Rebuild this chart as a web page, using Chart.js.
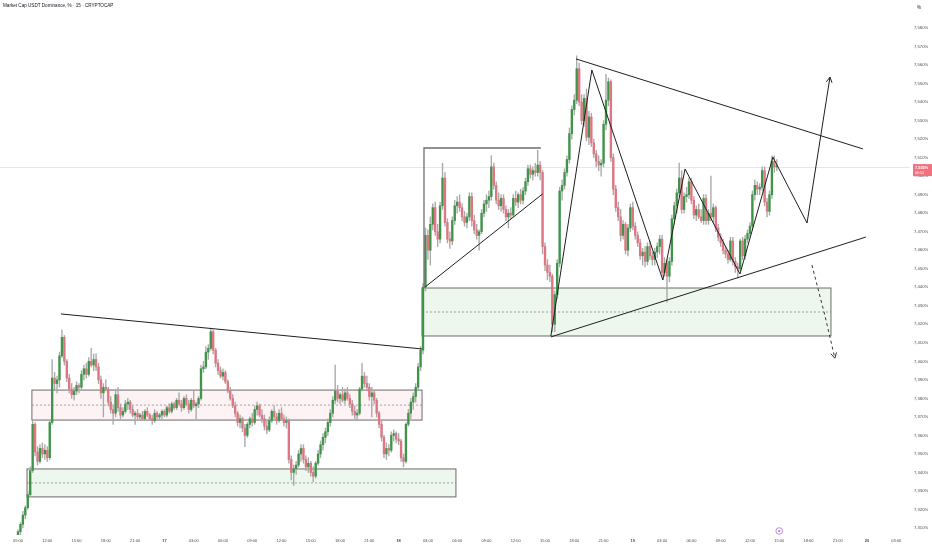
<!DOCTYPE html>
<html>
<head>
<meta charset="utf-8">
<script src="https://cdn.jsdelivr.net/npm/chart.js@4.4.1/dist/chart.umd.min.js"></script>
<style>
  html, body { margin: 0; padding: 0; background: #fff; }
  #wrap { width: 932px; height: 550px; }
</style>
</head>
<body>
<div id="wrap"><canvas id="chart"></canvas></div>
<script>
// 15-minute candles [open, high, low, close], one array per day (x = candle index from 16th 09:00)
const day16 = [
  [7.304,7.309,7.302,7.308],[7.308,7.313,7.306,7.312],[7.312,7.319,7.310,7.317],[7.317,7.322,7.315,7.321],
  [7.321,7.330,7.320,7.328],[7.328,7.343,7.327,7.341],[7.341,7.368,7.340,7.366],[7.366,7.367,7.349,7.351],
  [7.351,7.354,7.344,7.346],[7.346,7.355,7.345,7.353],[7.353,7.356,7.348,7.350],[7.350,7.355,7.347,7.352],
  [7.352,7.354,7.346,7.348],[7.348,7.368,7.347,7.367],[7.367,7.401,7.366,7.391],[7.391,7.394,7.385,7.388],
  [7.388,7.392,7.383,7.390],[7.390,7.405,7.386,7.403],[7.403,7.417,7.402,7.413],[7.413,7.414,7.398,7.400],
  [7.400,7.401,7.389,7.391],[7.391,7.393,7.383,7.385],[7.385,7.388,7.380,7.382],[7.382,7.386,7.379,7.384],
  [7.384,7.389,7.382,7.387],[7.387,7.388,7.383,7.386],[7.386,7.395,7.385,7.393],[7.393,7.398,7.390,7.396],
  [7.396,7.399,7.391,7.393],[7.393,7.402,7.392,7.400],[7.400,7.407,7.397,7.398],[7.398,7.404,7.395,7.401],
  [7.401,7.404,7.395,7.397],[7.397,7.399,7.388,7.390],[7.390,7.392,7.380,7.383],[7.383,7.388,7.370,7.386],
  [7.386,7.390,7.384,7.385],[7.385,7.386,7.376,7.378],[7.378,7.381,7.372,7.374],[7.374,7.376,7.366,7.372],
  [7.372,7.385,7.370,7.382],[7.382,7.386,7.373,7.375],[7.375,7.377,7.369,7.371],[7.371,7.375,7.370,7.373],
  [7.373,7.379,7.372,7.377],[7.377,7.380,7.374,7.378],[7.378,7.379,7.372,7.374],[7.374,7.376,7.370,7.371],
  [7.371,7.373,7.366,7.372],[7.372,7.374,7.369,7.370],[7.370,7.372,7.368,7.371],[7.371,7.373,7.368,7.369],
  [7.369,7.374,7.368,7.373],[7.373,7.375,7.370,7.371],[7.371,7.372,7.368,7.369],[7.369,7.371,7.366,7.368],
  [7.368,7.374,7.367,7.372],[7.372,7.373,7.369,7.370],[7.370,7.372,7.368,7.371],[7.371,7.374,7.369,7.373]
];
const day17 = [
  [7.373,7.374,7.370,7.371],[7.371,7.376,7.370,7.375],[7.375,7.377,7.372,7.373],[7.373,7.378,7.372,7.377],
  [7.377,7.378,7.374,7.375],[7.375,7.380,7.374,7.379],[7.379,7.383,7.376,7.377],[7.377,7.379,7.373,7.375],
  [7.375,7.381,7.374,7.380],[7.380,7.382,7.376,7.377],[7.377,7.379,7.372,7.374],[7.374,7.380,7.373,7.379],
  [7.379,7.384,7.375,7.376],[7.376,7.378,7.369,7.377],[7.377,7.381,7.375,7.380],[7.380,7.398,7.379,7.396],
  [7.396,7.400,7.394,7.397],[7.397,7.408,7.396,7.405],[7.405,7.409,7.401,7.407],[7.407,7.418,7.406,7.416],
  [7.416,7.417,7.404,7.406],[7.406,7.407,7.397,7.399],[7.399,7.401,7.393,7.395],[7.395,7.397,7.391,7.392],
  [7.392,7.396,7.390,7.394],[7.394,7.395,7.388,7.389],[7.389,7.390,7.383,7.384],[7.384,7.386,7.379,7.380],
  [7.380,7.382,7.375,7.376],[7.376,7.378,7.370,7.372],[7.372,7.373,7.365,7.367],[7.367,7.371,7.364,7.369],
  [7.369,7.370,7.362,7.364],[7.364,7.366,7.354,7.360],[7.360,7.367,7.359,7.366],[7.366,7.370,7.364,7.369],
  [7.369,7.372,7.365,7.367],[7.367,7.376,7.366,7.374],[7.374,7.378,7.371,7.376],[7.376,7.377,7.370,7.371],
  [7.371,7.374,7.367,7.369],[7.369,7.371,7.363,7.365],[7.365,7.368,7.361,7.363],[7.363,7.370,7.362,7.368],
  [7.368,7.374,7.367,7.373],[7.373,7.376,7.369,7.370],[7.370,7.372,7.366,7.368],[7.368,7.374,7.367,7.372],
  [7.372,7.375,7.368,7.369],[7.369,7.371,7.365,7.367],[7.367,7.370,7.364,7.368],[7.368,7.369,7.345,7.347],
  [7.347,7.349,7.336,7.340],[7.340,7.344,7.333,7.342],[7.342,7.346,7.339,7.344],[7.344,7.352,7.343,7.350],
  [7.350,7.355,7.346,7.353],[7.353,7.355,7.345,7.347],[7.347,7.349,7.341,7.343],[7.343,7.348,7.340,7.345],
  [7.345,7.346,7.338,7.340],[7.340,7.343,7.335,7.338],[7.338,7.346,7.337,7.345],[7.345,7.352,7.344,7.350],
  [7.350,7.357,7.348,7.355],[7.355,7.361,7.352,7.359],[7.359,7.364,7.356,7.362],[7.362,7.369,7.360,7.367],
  [7.367,7.374,7.365,7.372],[7.372,7.381,7.370,7.379],[7.379,7.398,7.377,7.384],[7.384,7.387,7.378,7.380],
  [7.380,7.383,7.377,7.382],[7.382,7.386,7.378,7.379],[7.379,7.385,7.377,7.383],[7.383,7.386,7.379,7.380],
  [7.380,7.382,7.375,7.377],[7.377,7.379,7.371,7.373],[7.373,7.376,7.369,7.371],[7.371,7.374,7.368,7.372],
  [7.372,7.386,7.371,7.385],[7.385,7.399,7.384,7.392],[7.392,7.394,7.386,7.388],[7.388,7.392,7.384,7.386],
  [7.386,7.388,7.379,7.381],[7.381,7.386,7.370,7.383],[7.383,7.384,7.377,7.379],[7.379,7.380,7.370,7.372],
  [7.372,7.373,7.364,7.366],[7.366,7.368,7.357,7.359],[7.359,7.360,7.348,7.350],[7.350,7.356,7.347,7.353],
  [7.353,7.355,7.349,7.352],[7.352,7.362,7.351,7.360],[7.360,7.363,7.357,7.361],[7.361,7.362,7.356,7.358]
];
const day18 = [
  [7.358,7.361,7.355,7.357],[7.357,7.358,7.346,7.348],[7.348,7.350,7.343,7.346],[7.346,7.367,7.345,7.366],
  [7.366,7.374,7.365,7.372],[7.372,7.380,7.369,7.378],[7.378,7.383,7.374,7.381],[7.381,7.388,7.378,7.386],
  [7.386,7.399,7.385,7.397],[7.397,7.408,7.395,7.406],[7.406,7.442,7.404,7.440],[7.440,7.472,7.438,7.468],
  [7.468,7.471,7.455,7.460],[7.460,7.478,7.452,7.474],[7.474,7.485,7.471,7.483],[7.483,7.486,7.468,7.470],
  [7.470,7.474,7.462,7.466],[7.466,7.486,7.464,7.484],[7.484,7.507,7.482,7.499],[7.499,7.502,7.473,7.475],
  [7.475,7.477,7.464,7.466],[7.466,7.470,7.461,7.465],[7.465,7.478,7.463,7.476],[7.476,7.487,7.474,7.484],
  [7.484,7.489,7.480,7.486],[7.486,7.490,7.481,7.483],[7.483,7.485,7.476,7.478],[7.478,7.481,7.473,7.475],
  [7.475,7.480,7.472,7.478],[7.478,7.491,7.476,7.489],[7.489,7.491,7.473,7.476],[7.476,7.479,7.469,7.471],
  [7.471,7.474,7.466,7.468],[7.468,7.471,7.460,7.470],[7.470,7.482,7.469,7.480],[7.480,7.487,7.478,7.485],
  [7.485,7.490,7.481,7.487],[7.487,7.492,7.483,7.489],[7.489,7.511,7.487,7.505],[7.505,7.507,7.493,7.495],
  [7.495,7.497,7.485,7.487],[7.487,7.491,7.482,7.484],[7.484,7.490,7.481,7.488],[7.488,7.490,7.480,7.482],
  [7.482,7.484,7.476,7.478],[7.478,7.482,7.472,7.480],[7.480,7.483,7.477,7.479],[7.479,7.490,7.478,7.488],
  [7.488,7.492,7.484,7.486],[7.486,7.491,7.483,7.490],[7.490,7.493,7.485,7.487],[7.487,7.494,7.485,7.492],
  [7.492,7.499,7.490,7.497],[7.497,7.506,7.495,7.504],[7.504,7.506,7.499,7.501],[7.501,7.505,7.498,7.503],
  [7.503,7.507,7.500,7.502],[7.502,7.514,7.500,7.506],[7.506,7.508,7.498,7.502],[7.502,7.503,7.458,7.462],
  [7.462,7.464,7.449,7.452],[7.452,7.455,7.444,7.448],[7.448,7.452,7.443,7.446],[7.446,7.447,7.416,7.420],
  [7.420,7.438,7.416,7.436],[7.436,7.455,7.434,7.453],[7.453,7.494,7.451,7.492],[7.492,7.498,7.487,7.495],
  [7.495,7.504,7.493,7.502],[7.502,7.511,7.500,7.509],[7.509,7.526,7.507,7.523],[7.523,7.538,7.520,7.536],
  [7.536,7.544,7.533,7.541],[7.541,7.565,7.539,7.558],[7.558,7.561,7.538,7.540],[7.540,7.544,7.528,7.530],
  [7.530,7.544,7.527,7.542],[7.542,7.547,7.519,7.521],[7.521,7.535,7.517,7.532],[7.532,7.534,7.516,7.518],
  [7.518,7.520,7.510,7.512],[7.512,7.514,7.505,7.508],[7.508,7.511,7.503,7.506],[7.506,7.509,7.500,7.507],
  [7.507,7.530,7.505,7.528],[7.528,7.555,7.525,7.541],[7.541,7.553,7.538,7.551],[7.551,7.552,7.508,7.510],
  [7.510,7.512,7.490,7.493],[7.493,7.495,7.481,7.483],[7.483,7.486,7.476,7.478],[7.478,7.482,7.465,7.468],
  [7.468,7.476,7.466,7.474],[7.474,7.475,7.458,7.460],[7.460,7.474,7.457,7.472],[7.472,7.485,7.470,7.483]
];
const day19 = [
  [7.483,7.486,7.471,7.473],[7.473,7.475,7.466,7.468],[7.468,7.470,7.462,7.464],[7.464,7.466,7.455,7.457],
  [7.457,7.461,7.452,7.459],[7.459,7.462,7.451,7.454],[7.454,7.464,7.452,7.462],[7.462,7.465,7.455,7.457],
  [7.457,7.459,7.452,7.455],[7.455,7.461,7.452,7.459],[7.459,7.464,7.456,7.462],[7.462,7.468,7.458,7.466],
  [7.466,7.468,7.446,7.448],[7.448,7.456,7.446,7.453],[7.453,7.455,7.432,7.446],[7.446,7.456,7.443,7.454],
  [7.454,7.479,7.452,7.477],[7.477,7.486,7.474,7.484],[7.484,7.493,7.480,7.491],[7.491,7.507,7.489,7.499],
  [7.499,7.503,7.480,7.482],[7.482,7.491,7.480,7.489],[7.489,7.494,7.486,7.490],[7.490,7.499,7.488,7.497],
  [7.497,7.499,7.485,7.487],[7.487,7.489,7.477,7.479],[7.479,7.484,7.476,7.482],[7.482,7.485,7.477,7.478],
  [7.478,7.482,7.475,7.476],[7.476,7.490,7.474,7.488],[7.488,7.490,7.474,7.476],[7.476,7.482,7.474,7.480],
  [7.480,7.500,7.476,7.478],[7.478,7.485,7.475,7.483],[7.483,7.484,7.470,7.472],[7.472,7.474,7.465,7.467],
  [7.467,7.469,7.462,7.464],[7.464,7.466,7.458,7.460],[7.460,7.462,7.456,7.458],[7.458,7.460,7.453,7.455],
  [7.455,7.467,7.454,7.465],[7.465,7.467,7.452,7.454],[7.454,7.456,7.448,7.451],[7.451,7.453,7.445,7.450],
  [7.450,7.466,7.449,7.465],[7.465,7.467,7.455,7.457],[7.457,7.468,7.455,7.466],[7.466,7.471,7.464,7.469],
  [7.469,7.475,7.467,7.473],[7.473,7.492,7.471,7.490],[7.490,7.498,7.487,7.495],[7.495,7.497,7.490,7.493],
  [7.493,7.496,7.490,7.494],[7.494,7.505,7.492,7.503],[7.503,7.505,7.484,7.486],[7.486,7.488,7.478,7.481],
  [7.481,7.492,7.479,7.490],[7.490,7.511,7.488,7.508],[7.508,7.511,7.502,7.505],[7.505,7.509,7.503,7.505]
];

// time axis labels, one every 12 candles (3 hours)
const timeLabels = ['09:00','12:00','15:00','18:00','21:00','17','03:00','06:00','09:00','12:00','15:00',
  '18:00','21:00','18','03:00','06:00','09:00','12:00','15:00','18:00','21:00','19','03:00','06:00',
  '09:00','12:00','15:00','18:00','21:00','20','03:00'];
const priceTicks = [7.31,7.32,7.33,7.34,7.35,7.36,7.37,7.38,7.39,7.40,7.41,7.42,7.43,7.44,7.45,
  7.46,7.47,7.48,7.49,7.50,7.51,7.52,7.53,7.54,7.55,7.56,7.57,7.58];
const lastPrice = 7.5049;
const countdown = '00:51';

// drawings: [candle index, price]
const topTrend = [[17.6,7.4256],[165.6,7.4067]];
const rangeBracket = [[166.4,7.4396],[166.4,7.5152],[214.3,7.5152]];
const rangeSupport = [[166.8,7.4401],[215.0,7.4904]];
const zigzag = [[218.4,7.4137],[235.2,7.5573],[264.3,7.4439],[273.4,7.5039],[295.9,7.4472],
  [309.4,7.5103],[323.4,7.4747],[332.8,7.5535]];
const wedgeTop = [[228.7,7.5633],[346.3,7.5147]];
const wedgeBottom = [[218.4,7.4132],[347.5,7.4671]];
const breakdown = [[325.4,7.4520],[330.7,7.4249],[334.8,7.4017]];
// zones: [from index, to index, top price, bottom price]
const supplyZone = [5.7,165.6,7.3845,7.3683];
const lowDemand = [3.7,179.5,7.3419,7.3268];
const highDemand = [165.6,333.2,7.4396,7.4137];

const candles = [...day16, ...day17, ...day18, ...day19];
const UP = '#3f944a', DOWN = '#de7582';
const FONT = '"Liberation Sans", Arial, sans-serif';

const pts = arr => arr.map(([x, y]) => ({ x, y }));
const lineSet = (arr, extra) => Object.assign({
  type: 'line', data: pts(arr), borderColor: '#1e1e1e', borderWidth: 1,
  pointRadius: 0, fill: false, tension: 0, order: 0
}, extra);

// no extra label padding, so the plot fills the canvas like the original
const noPad = axis => {
  axis.paddingTop = 0; axis.paddingBottom = 0;
  axis.paddingLeft = 0; axis.paddingRight = 0;
};

function arrowHead(ctx, x, y, path) {
  const a = path[path.length - 2], b = path[path.length - 1];
  const x1 = x.getPixelForValue(a[0]), y1 = y.getPixelForValue(a[1]);
  const x2 = x.getPixelForValue(b[0]), y2 = y.getPixelForValue(b[1]);
  const ang = Math.atan2(y2 - y1, x2 - x1);
  const len = 6;
  ctx.beginPath();
  ctx.moveTo(x2 - len * Math.cos(ang - 0.5), y2 - len * Math.sin(ang - 0.5));
  ctx.lineTo(x2, y2);
  ctx.lineTo(x2 - len * Math.cos(ang + 0.5), y2 - len * Math.sin(ang + 0.5));
  ctx.stroke();
}

const drawings = {
  id: 'drawings',
  beforeDatasetsDraw(chart) {
    const { ctx, chartArea: a, scales: { x, y } } = chart;
    ctx.save();
    // last price line
    const py = Math.round(y.getPixelForValue(lastPrice)) + 0.5;
    ctx.strokeStyle = '#efe3e4';
    ctx.lineWidth = 1;
    ctx.beginPath(); ctx.moveTo(a.left, py); ctx.lineTo(a.right, py); ctx.stroke();

    const zones = [
      [supplyZone, 'rgba(242, 90, 100, 0.07)'],
      [lowDemand, 'rgba(76, 175, 80, 0.10)'],
      [highDemand, 'rgba(76, 175, 80, 0.10)']
    ];
    zones.forEach(([z, fill]) => {
      const x0 = x.getPixelForValue(z[0]), x1 = x.getPixelForValue(z[1]);
      const y0 = y.getPixelForValue(z[2]), y1 = y.getPixelForValue(z[3]);
      ctx.fillStyle = fill;
      ctx.fillRect(x0, y0, x1 - x0, y1 - y0);
      ctx.strokeStyle = '#6b6b6b';
      ctx.lineWidth = 1;
      ctx.setLineDash([]);
      ctx.strokeRect(x0, y0, x1 - x0, y1 - y0);
      const ym = y.getPixelForValue((z[2] + z[3]) / 2);
      ctx.strokeStyle = '#8a8a8a';
      ctx.lineWidth = 0.8;
      ctx.setLineDash([2, 2]);
      ctx.beginPath(); ctx.moveTo(x0, ym); ctx.lineTo(x1, ym); ctx.stroke();
    });
    ctx.restore();
  },
  afterDraw(chart) {
    const { ctx, chartArea: a, scales: { x, y } } = chart;
    ctx.save();
    ctx.strokeStyle = '#1e1e1e';
    ctx.lineWidth = 1;
    arrowHead(ctx, x, y, zigzag);
    ctx.strokeStyle = '#333';
    arrowHead(ctx, x, y, breakdown);

    // title
    ctx.fillStyle = '#131722';
    ctx.font = '4.6px ' + FONT;
    ctx.textBaseline = 'middle';
    ctx.textAlign = 'left';
    ctx.fillText('Market Cap USDT Dominance, % · 15 · CRYPTOCAP', 3, 6);
    ctx.fillText('%', 917, 8);

    // last price label
    const py = y.getPixelForValue(lastPrice);
    ctx.fillStyle = '#f0727e';
    ctx.fillRect(913, py - 3, 19, 12);
    ctx.fillStyle = '#fff';
    ctx.font = 'bold 3.9px ' + FONT;
    ctx.fillText(lastPrice.toFixed(3).replace('.', ',') + '%', 915, py + 0.5);
    ctx.font = '3.6px ' + FONT;
    ctx.fillText(countdown, 915, py + 5.5);

    // event marker on the time axis
    const ex = x.getPixelForValue(candles.length);
    ctx.strokeStyle = '#b36ad8';
    ctx.lineWidth = 0.8;
    ctx.beginPath(); ctx.arc(ex, a.bottom - 4, 3.3, 0, Math.PI * 2); ctx.stroke();
    ctx.fillStyle = '#b36ad8';
    ctx.beginPath(); ctx.arc(ex, a.bottom - 4, 1.1, 0, Math.PI * 2); ctx.fill();
    ctx.restore();
  }
};

new Chart(document.getElementById('chart'), {
  type: 'bar',
  data: {
    datasets: [
      lineSet(topTrend),
      lineSet(rangeBracket, { borderColor: '#6e6e6e', borderWidth: 1.3 }),
      lineSet(rangeSupport),
      lineSet(zigzag),
      lineSet(wedgeTop),
      lineSet(wedgeBottom),
      lineSet(breakdown, { borderColor: '#333', borderDash: [3, 3] }),
      {
        label: 'body',
        data: candles.map((c, i) => ({ x: i, y: [c[0], c[3]] })),
        backgroundColor: candles.map(c => c[3] >= c[0] ? UP : DOWN),
        barThickness: 1.7,
        minBarLength: 1,
        grouped: false,
        order: 1
      },
      {
        label: 'wick',
        data: candles.map((c, i) => ({ x: i, y: [c[2], c[1]] })),
        backgroundColor: '#a8a8a8',
        barThickness: 0.7,
        grouped: false,
        order: 2
      }
    ]
  },
  options: {
    responsive: true,
    maintainAspectRatio: false,
    animation: false,
    events: [],
    layout: { padding: 0 },
    plugins: { legend: { display: false }, tooltip: { enabled: false } },
    scales: {
      x: {
        type: 'linear',
        min: -7.38,
        max: 365.6,
        offset: false,
        grid: { display: false, drawTicks: false },
        border: { display: false },
        afterBuildTicks: axis => { axis.ticks = timeLabels.map((_, k) => ({ value: k * 12 })); },
        afterFit: axis => { axis.height = 15; noPad(axis); },
        ticks: {
          autoSkip: false,
          maxRotation: 0,
          padding: 3,
          color: '#4a4a4a',
          font: ctx => ({
            size: 4,
            family: FONT,
            weight: ctx.tick && !String(timeLabels[ctx.index]).includes(':') ? 'bold' : 'normal'
          }),
          callback: (v, k) => timeLabels[k]
        }
      },
      y: {
        position: 'right',
        min: 7.30624,
        max: 7.59512,
        grid: { display: false, drawTicks: false },
        border: { display: false },
        afterBuildTicks: axis => { axis.ticks = priceTicks.map(v => ({ value: v })); },
        afterFit: axis => { axis.width = 22; noPad(axis); },
        ticks: {
          autoSkip: false,
          padding: 4,
          color: '#4a4a4a',
          font: { size: 4.2, family: FONT },
          callback: v => v.toFixed(3).replace('.', ',') + '%'
        }
      }
    }
  },
  plugins: [drawings]
});
</script>
</body>
</html>
